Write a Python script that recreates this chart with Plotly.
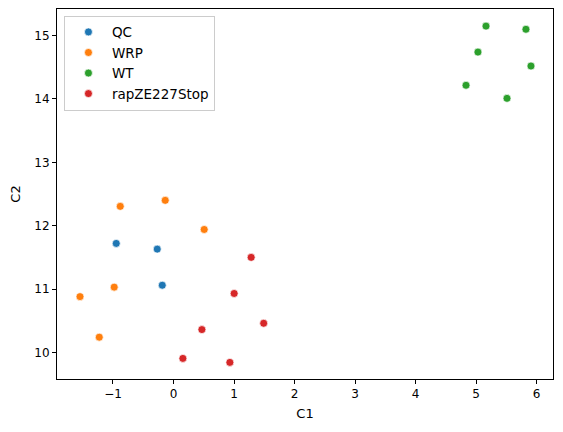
import plotly.graph_objects as go

groups = ["QC", "WRP", "WT", "rapZE227Stop"]
colors = ["#1f77b4", "#ff7f0e", "#2ca02c", "#d62728"]

qc_c1 = [-0.946, -0.269, -0.186]
qc_c2 = [11.72, 11.63, 11.06]

wrp_c1 = [-0.88, -0.137, 0.507, -0.98, -1.545, -1.227]
wrp_c2 = [12.305, 12.40, 11.94, 11.03, 10.88, 10.24]

wt_c1 = [5.163, 5.823, 5.03, 5.906, 4.833, 5.51]
wt_c2 = [15.15, 15.10, 14.74, 14.52, 14.216, 14.01]

rap_c1 = [1.283, 1.002, 1.49, 0.469, 0.155, 0.931]
rap_c2 = [11.50, 10.93, 10.46, 10.36, 9.905, 9.842]

data = [(qc_c1, qc_c2), (wrp_c1, wrp_c2), (wt_c1, wt_c2), (rap_c1, rap_c2)]

fig = go.Figure()
for name, col, (xs, ys) in zip(groups, colors, data):
    fig.add_trace(go.Scatter(
        x=xs, y=ys, mode="markers", name=name,
        marker=dict(color=col, size=8, line=dict(color="white", width=0.7)),
    ))

axis_common = dict(
    showgrid=False, zeroline=False, showline=True, linecolor="black", linewidth=1,
    mirror=True, ticks="outside", ticklen=4, tickcolor="black",
    tickfont=dict(family="DejaVu Sans", size=12, color="black"),
)

fig.update_layout(
    width=563, height=432,
    margin=dict(l=57, r=10, t=9, b=53),
    paper_bgcolor="white", plot_bgcolor="white",
    font=dict(family="DejaVu Sans", size=12, color="black"),
    xaxis=dict(range=[-1.925, 6.27], tickvals=[-1, 0, 1, 2, 3, 4, 5, 6],
               ticktext=["\u22121", "0", "1", "2", "3", "4", "5", "6"],
               title=dict(text="C1", standoff=8, font=dict(size=13)), **axis_common),
    yaxis=dict(range=[9.58, 15.42], tickvals=[10, 11, 12, 13, 14, 15],
               title=dict(text="C2", standoff=10, font=dict(size=13)), **axis_common),
    legend=dict(x=0.014, y=0.982, xanchor="left", yanchor="top",
                bordercolor="#cccccc", borderwidth=1, bgcolor="rgba(255,255,255,0.8)",
                font=dict(family="DejaVu Sans", size=13.5), itemwidth=37,
                tracegroupgap=0),
    showlegend=True,
)

fig.write_html("out.html")
